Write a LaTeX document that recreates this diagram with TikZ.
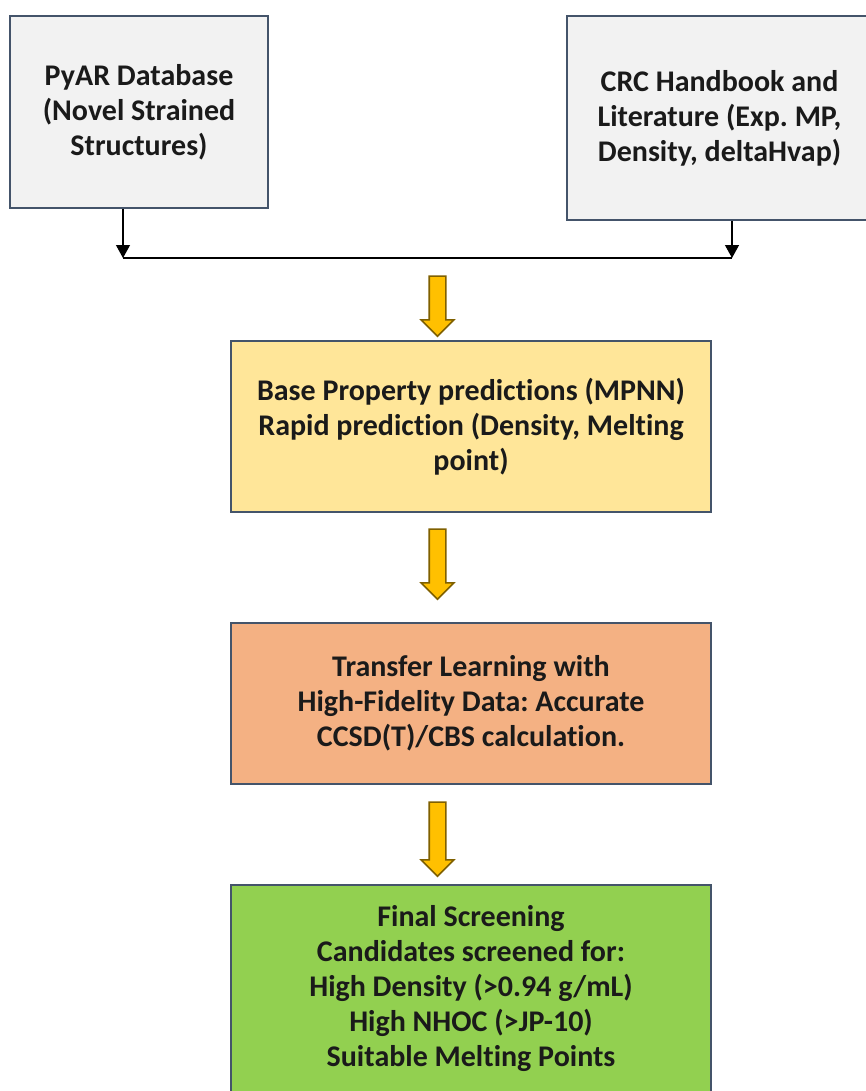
\documentclass[tikz,border=0pt]{standalone}
\usepackage{fontspec}
\setmainfont{Carlito}[Ligatures=NoCommon]
\frenchspacing
\usepackage{xcolor}
\usepackage{tikz}
\usetikzlibrary{calc,arrows.meta,shapes.arrows}
\definecolor{edge}{HTML}{44546A}
\definecolor{srcfill}{HTML}{F2F2F2}
\definecolor{mpnnfill}{HTML}{FFE699}
\definecolor{tlfill}{HTML}{F4B183}
\definecolor{finalfill}{HTML}{92D050}
\definecolor{gold}{HTML}{FFC000}
\definecolor{goldedge}{HTML}{7F6000}
\definecolor{ink}{HTML}{1A1A1A}
\tikzset{
  box/.style={draw=edge, line width=1pt, align=center, inner sep=0pt,
    text=ink, font=\bfseries\fontsize{15}{17.5}\selectfont},
  src/.style={box, fill=srcfill},
  link/.style={draw=black, line width=0.6pt, -{Triangle[width=7pt,length=6.5pt]}},
  bus/.style={draw=black, line width=0.6pt},
  bigarr/.style={single arrow, rotate=-90, draw=goldedge, fill=gold, line width=0.8pt,
    inner sep=3.75pt, single arrow head extend=4pt, single arrow head indent=0pt}
}
\begin{document}
\begin{tikzpicture}[x=0.5pt,y=-0.5pt]
  \useasboundingbox (0,0) rectangle (866,1091);
  % sources
  \node[src, minimum width=129pt, minimum height=96pt] (b1) at (139,112)
    {PyAR Database\\(Novel Strained\\Structures)};
  \node[src, minimum width=152.5pt, minimum height=102pt] (b2) at (719.5,118)
    {CRC Handbook and\\Literature (Exp. MP,\\Density, deltaHvap)};
  \coordinate (j1) at (123,258);
  \coordinate (j2) at (732,258);
  \draw[link] (b1.south -| j1) -- (j1);
  \draw[link] (b2.south -| j2) -- (j2);
  \draw[bus] (j1) -- (j2);
  % pipeline
  \node[box, fill=mpnnfill, minimum width=240pt, minimum height=85.5pt] (b3) at (471,426.5)
    {Base Property predictions (MPNN)\\Rapid prediction (Density, Melting\\point)};
  \node[box, fill=tlfill, minimum width=240pt, minimum height=80.5pt] (b4) at (471,703.5)
    {Transfer Learning with\\High-Fidelity Data: Accurate\\CCSD(T)/CBS calculation.};
  \node[box, fill=finalfill, minimum width=240pt, minimum height=104pt] (b5) at (471,989)
    {Final Screening\\Candidates screened for:\\High Density (>0.94 g/mL)\\High NHOC (>JP-10)\\Suitable Melting Points};
  \node[bigarr, minimum height=30pt] (a1) at (437.5,302) {};
  \node[bigarr, minimum height=35pt] (a2) at (437.5,560) {};
  \node[bigarr, minimum height=37pt] (a3) at (437.5,835) {};
\end{tikzpicture}
\end{document}
